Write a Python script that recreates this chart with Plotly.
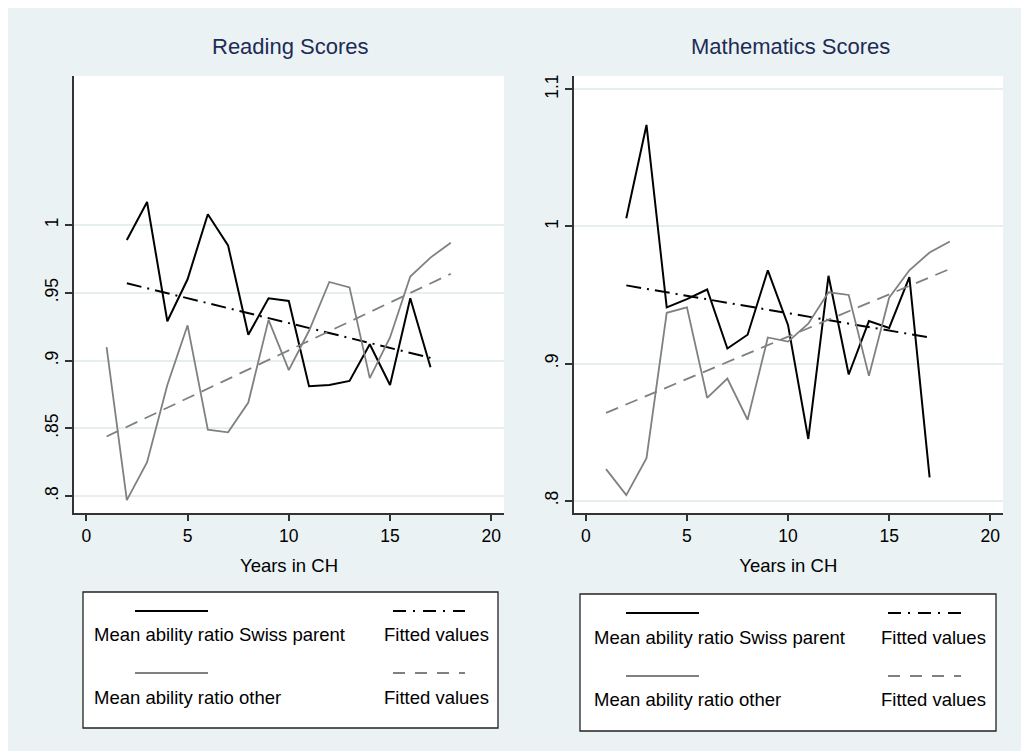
import plotly.graph_objects as go

# Page body has an 8px margin: figure is drawn from (8, 8) in the window
OFF = 8
W, H = 1029 - OFF, 751 - OFF

# ---------------- data ----------------
years_swiss = list(range(2, 18))
years_other = list(range(1, 19))

reading_swiss = [0.989, 1.017, 0.929, 0.960, 1.008, 0.985, 0.919, 0.946,
                 0.944, 0.881, 0.882, 0.885, 0.912, 0.882, 0.946, 0.895]
reading_other = [0.910, 0.797, 0.825, 0.882, 0.926, 0.849, 0.847, 0.869, 0.930,
                 0.893, 0.922, 0.958, 0.954, 0.887, 0.917, 0.962, 0.976, 0.987]
reading_fit_swiss_x = [2, 17]
reading_fit_swiss = [0.957, 0.902]
reading_fit_other_x = [1, 18]
reading_fit_other = [0.844, 0.964]

math_swiss = [1.006, 1.074, 0.941, 0.947, 0.954, 0.911, 0.921, 0.968,
              0.928, 0.845, 0.964, 0.892, 0.931, 0.926, 0.963, 0.817]
math_other = [0.823, 0.804, 0.831, 0.937, 0.941, 0.875, 0.889, 0.859, 0.919,
              0.916, 0.929, 0.952, 0.950, 0.891, 0.948, 0.968, 0.981, 0.989]
math_fit_swiss_x = [2, 17]
math_fit_swiss = [0.957, 0.919]
math_fit_other_x = [1, 18]
math_fit_other = [0.864, 0.969]

reading_yticks = [0.8, 0.85, 0.9, 0.95, 1.0]
reading_ytext = [".8", ".85", ".9", ".95", "1"]
math_yticks = [0.8, 0.9, 1.0, 1.1]
math_ytext = [".8", ".9", "1", "1.1"]
xticks = [0, 5, 10, 15, 20]

titles = ["Reading Scores", "Mathematics Scores"]
legend_labels = ["Mean ability ratio Swiss parent", "Fitted values",
                 "Mean ability ratio other", "Fitted values"]

# ---------------- styles ----------------
FONT = "Arial, Liberation Sans, sans-serif"
BG = "#EAF2F3"
GRID = "#E6EEF0"
BLACK = "#000000"
GRAY = "#808080"
DASHDOT = "15px,6px,2px,6px"
DASH = "13px,8px"

def px(x):
    return (x - OFF) / W

def py(y):
    return 1 - (y - OFF) / H

fig = go.Figure()

panels = [
    dict(xa="x", ya="y", sw=reading_swiss, ot=reading_other,
         fsx=reading_fit_swiss_x, fs=reading_fit_swiss,
         fox=reading_fit_other_x, fo=reading_fit_other),
    dict(xa="x2", ya="y2", sw=math_swiss, ot=math_other,
         fsx=math_fit_swiss_x, fs=math_fit_swiss,
         fox=math_fit_other_x, fo=math_fit_other),
]
for p in panels:
    fig.add_trace(go.Scatter(x=years_swiss, y=p["sw"], mode="lines",
                             line=dict(color=BLACK, width=2),
                             xaxis=p["xa"], yaxis=p["ya"], showlegend=False))
    fig.add_trace(go.Scatter(x=p["fsx"], y=p["fs"], mode="lines",
                             line=dict(color=BLACK, width=2, dash=DASHDOT),
                             xaxis=p["xa"], yaxis=p["ya"], showlegend=False))
    fig.add_trace(go.Scatter(x=years_other, y=p["ot"], mode="lines",
                             line=dict(color=GRAY, width=1.8),
                             xaxis=p["xa"], yaxis=p["ya"], showlegend=False))
    fig.add_trace(go.Scatter(x=p["fox"], y=p["fo"], mode="lines",
                             line=dict(color=GRAY, width=1.8, dash=DASH),
                             xaxis=p["xa"], yaxis=p["ya"], showlegend=False))

ydom = [py(513), py(76)]
common_x = dict(range=[-0.61, 20.63], tickvals=xticks, ticks="outside", ticklen=6,
                tickwidth=1.5, tickcolor="#333333", showline=True, linecolor="#333333",
                linewidth=1.5, showgrid=False, zeroline=False,
                tickfont=dict(family=FONT, size=17.5, color="black"),
                title=dict(text="Years in CH", font=dict(family=FONT, size=18.5, color="black"),
                           standoff=14))
common_y = dict(ticks="outside", ticklen=7, tickwidth=1.5, tickcolor="#333333",
                showline=True, linecolor="#333333", linewidth=1.5,
                showgrid=True, gridcolor=GRID, gridwidth=2, zeroline=False,
                tickangle=-90, tickfont=dict(family=FONT, size=17.5, color="black"))

fig.update_layout(
    width=W, height=H,
    margin=dict(l=0, r=0, t=0, b=0),
    paper_bgcolor=BG, plot_bgcolor="white",
    showlegend=False,
    xaxis=dict(domain=[px(74), px(504)], anchor="y", **common_x),
    yaxis=dict(domain=ydom, anchor="x", range=[0.7875, 1.110],
               tickvals=reading_yticks, ticktext=reading_ytext, **common_y),
    xaxis2=dict(domain=[px(573.5), px(1003)], anchor="y2", **common_x),
    yaxis2=dict(domain=ydom, anchor="x2", range=[0.791, 1.1097],
                tickvals=math_yticks, ticktext=math_ytext, **common_y),
)

shapes = []
annotations = []

# titles
for cx, t in zip([290, 790], titles):
    annotations.append(dict(text=t, xref="paper", yref="paper", x=px(cx), y=py(47),
                            xanchor="center", yanchor="middle", showarrow=False,
                            font=dict(family=FONT, size=22, color="#1E2B55")))

# legends
legend_boxes = [
    dict(box=(83, 592, 498, 728), key1=(135, 208), key2=(393, 465), txt1=92, txt2=382,
         rows=(611, 634, 673, 697)),
    dict(box=(580, 594, 996, 731), key1=(626, 699), key2=(888, 961), txt1=592, txt2=879,
         rows=(613, 637, 676, 699)),
]
key_styles = [(BLACK, 2, "solid"), (BLACK, 2, "13px,7px,2px,8px"),
              (GRAY, 1.8, "solid"), (GRAY, 1.8, "12px,10px")]
for lb in legend_boxes:
    x0, y0, x1, y1 = lb["box"]
    shapes.append(dict(type="rect", xref="paper", yref="paper", x0=px(x0), x1=px(x1),
                       y0=py(y1), y1=py(y0), fillcolor="white",
                       line=dict(color="#222222", width=1.3)))
    r1l, r1t, r2l, r2t = lb["rows"]
    for i, lab in enumerate(legend_labels):
        col = i % 2
        row = i // 2
        kx = lb["key1"] if col == 0 else lb["key2"]
        ky = r1l if row == 0 else r2l
        ty = r1t if row == 0 else r2t
        tx = lb["txt1"] if col == 0 else lb["txt2"]
        c, w, d = key_styles[i]
        shapes.append(dict(type="line", xref="paper", yref="paper", x0=px(kx[0]), x1=px(kx[1]),
                           y0=py(ky), y1=py(ky), line=dict(color=c, width=w, dash=d)))
        annotations.append(dict(text=lab, xref="paper", yref="paper", x=px(tx), y=py(ty),
                                xanchor="left", yanchor="middle", showarrow=False,
                                font=dict(family=FONT, size=18.5, color="black")))

fig.update_layout(shapes=shapes, annotations=annotations)

fig.write_html("out.html")
